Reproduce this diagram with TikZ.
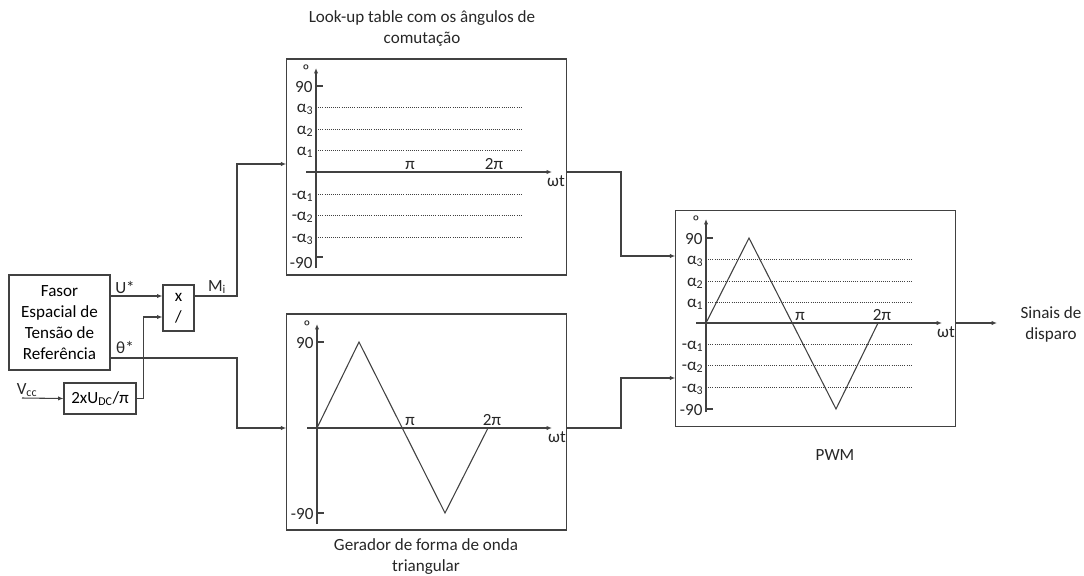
\documentclass[tikz,border=0pt]{standalone}
\usepackage{fontspec}
\setmainfont{Carlito}
\usetikzlibrary{arrows.meta,positioning,calc}
\definecolor{lineGray}{RGB}{65,65,65}
\tikzset{
	blk/.style={
		draw=lineGray,
		line width=0.8pt,
		align=center,
		inner sep=2pt,
		font=\fontsize{12.8}{15.75}\selectfont
	},
	plotbox/.style={draw=lineGray, line width=0.8pt, minimum width=209.5pt, minimum height=162pt},
	conn/.style={-{Latex[length=4pt,width=3.2pt]}, line width=0.8pt, lineGray},
	axis/.style={-{Latex[length=4pt,width=3.2pt]}, line width=0.8pt, lineGray},
	level/.style={densely dotted, line width=0.6pt, lineGray},
	wave/.style={line width=0.8pt, lineGray},
	lbl/.style={font=\fontsize{12.8}{15.75}\selectfont, inner sep=1pt, align=center, text=black!85}
}
\begin{document}
\begin{tikzpicture}[x=0.75pt, y=-0.75pt]
		\useasboundingbox (0,0) rectangle (1084,575);
		% blocks
		\node[blk, minimum width=75.75pt, minimum height=71.25pt] (fasor) at (59.5,322.5) {Fasor\\Espacial de\\Tensão de\\Referência};
		\node[blk, minimum width=23.25pt, minimum height=34.5pt] (mult) at (178.5,308) {x\\/};
		\node[blk, minimum width=54pt, minimum height=23.25pt] (gain) at (100,398.5) {2xU\textsubscript{DC}/π};
		\node[plotbox] (lut) at (426.5,167) {};
		\node[plotbox] (tri) at (426.5,422) {};
		\node[plotbox] (pwm) at (815.5,318.5) {};
		% labels
		\node[lbl] (luttitle) at (422,29) {Look-up table com os ângulos de\\comutação};
		\node[lbl] (trititle) at (426,557) {Gerador de forma de onda\\triangular};
		\node[lbl] (pwmtitle) at (835,455) {PWM};
		\node[lbl] (outlbl) at (1051,324) {Sinais de\\disparo};
		\node[lbl] (ulbl) at (125,287) {U*};
		\node[lbl] (thlbl) at (125,347) {θ*};
		\node[lbl] (milbl) at (217,287) {M\textsubscript{i}};
		\node[lbl] (vcc) at (27,390) {V\textsubscript{cc}};
		\coordinate (vccin) at (22,398);
		\coordinate (out) at (997,323);
		% connectors
		\draw[conn] (fasor.east |- 0,296) -- (mult.west |- 0,296);
		\draw[conn] (vccin) -- (gain.west);
		\draw[conn] (gain.east) -- ++(7,0) |- (mult.west |- 0,317);
		\draw[conn] (fasor.east |- 0,358) -- (237,358) |- (tri.west |- 0,428);
		\draw[conn] (mult.east |- 0,296) -- (237,296) |- (lut.west |- 0,164);
		\draw[conn] (lut.east |- 0,172) -- (621,172) |- (pwm.west |- 0,256);
		\draw[conn] (tri.east |- 0,428) -- (621,428) |- (pwm.west |- 0,378);
		\draw[conn] (pwm.east |- out) -- (out);
		% look-up table plot
		\begin{scope}[shift={(316,172)}]
			\draw[axis] (-10,0) -- (236,0);
			\draw[axis] (0,96) -- (0,-104);
			\draw[wave] (0,-86) -- (7,-86) (0,85) -- (7,85);
			\foreach \lv/\nm in {65/3,43/2,22/1} {
				\draw[level] (0,-\lv) -- (205,-\lv);
				\draw[level] (0,\lv) -- (205,\lv);
				\node[lbl, anchor=base east] at (-1,-\lv+5) {α\textsubscript{\nm}};
				\node[lbl, anchor=base east] at (-1,\lv+5) {-α\textsubscript{\nm}};
			}
			\node[lbl, anchor=base east] at (-2,-80) {90};
			\node[lbl, anchor=base east] at (-2,96) {-90};
			\node[lbl] at (-10,-101) {º};
			\node[lbl, anchor=base] at (94,-3) {π};
			\node[lbl, anchor=base] at (178,-3) {2π};
			\node[lbl] at (240,9) {ωt};
		\end{scope}
		% triangular wave plot
		\begin{scope}[shift={(317,428)}]
			\draw[axis] (-10,0) -- (235,0);
			\draw[axis] (0,96) -- (0,-104);
			\draw[wave] (0,-86) -- (7,-86) (0,85) -- (7,85);
			\draw[wave] (0,0) -- (42,-86) -- (128,85) -- (171,0);
			\node[lbl, anchor=base east] at (-2,-80) {90};
			\node[lbl, anchor=base east] at (-2,91) {-90};
			\node[lbl] at (-10,-101) {º};
			\node[lbl, anchor=base] at (93,-3) {π};
			\node[lbl, anchor=base] at (175,-3) {2π};
			\node[lbl] at (240,9) {ωt};
		\end{scope}
		% PWM plot
		\begin{scope}[shift={(706,323)}]
			\draw[axis] (-10,0) -- (236,0);
			\draw[axis] (0,89) -- (0,-104);
			\draw[wave] (0,-85) -- (7,-85) (0,86) -- (7,86);
			\foreach \lv/\nm in {64/3,42/2,21/1} {
				\draw[level] (0,-\lv) -- (205,-\lv);
				\draw[level] (0,\lv) -- (205,\lv);
				\node[lbl, anchor=base east] at (-1,-\lv+5) {α\textsubscript{\nm}};
				\node[lbl, anchor=base east] at (-1,\lv+5) {-α\textsubscript{\nm}};
			}
			\draw[wave] (0,0) -- (43,-85) -- (130,86) -- (172,0);
			\node[lbl, anchor=base east] at (-2,-79) {90};
			\node[lbl, anchor=base east] at (-2,92) {-90};
			\node[lbl] at (-10,-101) {º};
			\node[lbl, anchor=base] at (94,-3) {π};
			\node[lbl, anchor=base] at (176,-3) {2π};
			\node[lbl] at (240,9) {ωt};
		\end{scope}
	\end{tikzpicture}
\end{document}
